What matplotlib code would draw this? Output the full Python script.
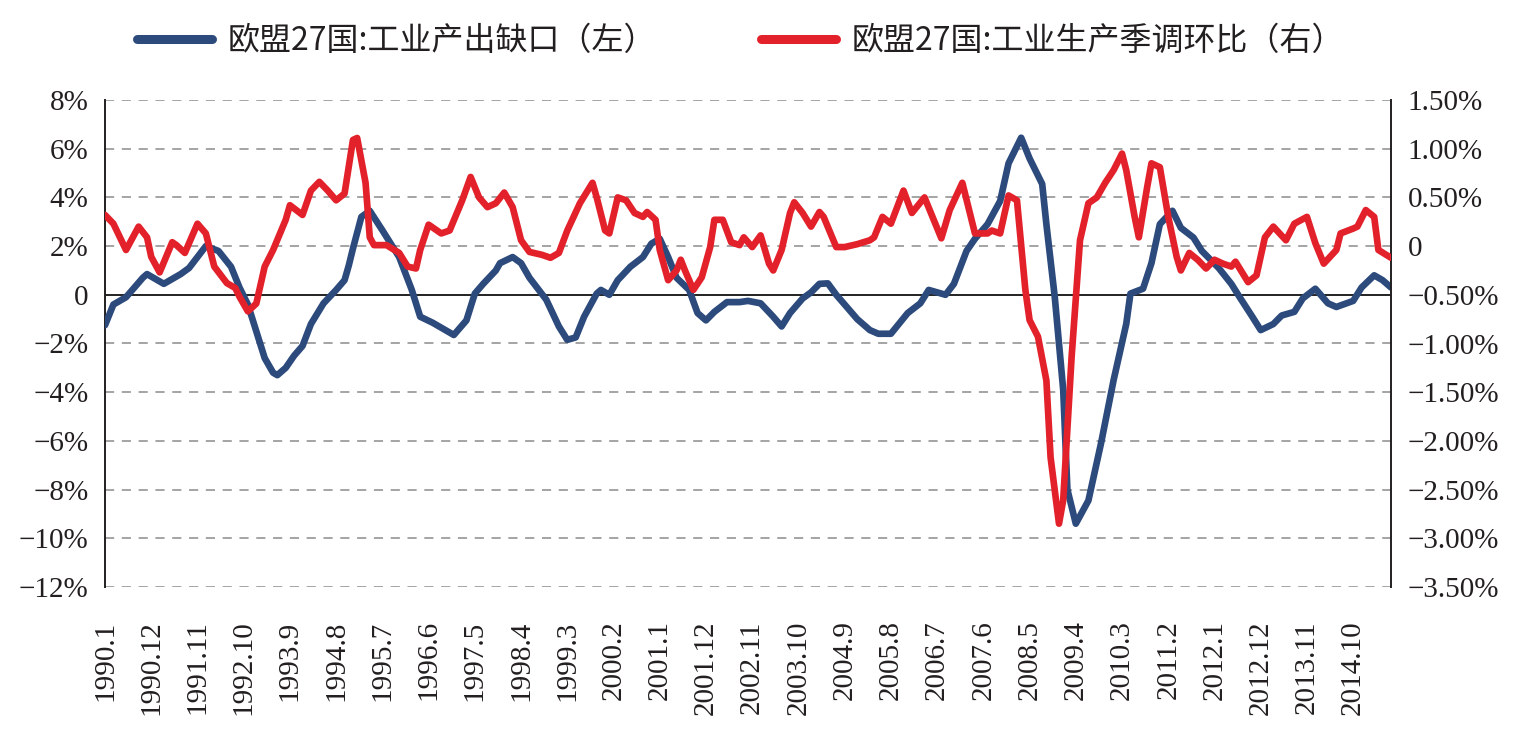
import matplotlib
matplotlib.use('Agg')
import matplotlib.pyplot as plt
import numpy as np

# months counted from 1990.1 (index 0) to 2015.7 (index 306)
n_months = 307
tick_labels = ['1990.1', '1990.12', '1991.11', '1992.10', '1993.9', '1994.8', '1995.7',
               '1996.6', '1997.5', '1998.4', '1999.3', '2000.2', '2001.1', '2001.12',
               '2002.11', '2003.10', '2004.9', '2005.8', '2006.7', '2007.6', '2008.5',
               '2009.4', '2010.3', '2011.2', '2012.1', '2012.12', '2013.11', '2014.10']

# 欧盟27国:工业产出缺口 (%), left axis
gap_month = [0, 2, 5, 9, 10, 14, 18, 20, 24, 27, 30, 32, 34, 36, 38, 40, 41, 43, 45, 47,
             49, 52, 55, 57, 58, 59, 61, 63, 66, 70, 73, 75, 78, 81, 83, 86, 88, 90, 93, 94,
             97, 99, 101, 105, 108, 110, 112, 114, 117, 118, 120, 122, 125, 128, 130, 132,
             134, 136, 139, 141, 143, 145, 148, 151, 153, 156, 159, 161, 163, 166, 168, 170,
             172, 174, 177, 179, 182, 184, 187, 191, 194, 196, 200, 202, 205, 207, 210, 213,
             215, 218, 220, 223, 224, 226, 228, 229, 231, 234, 237, 240, 243, 244, 247, 249,
             251, 254, 256, 259, 261, 265, 268, 270, 273, 275, 278, 280, 283, 285, 288, 291,
             293, 297, 299, 302, 304, 306]
gap_value = [-1.25, -0.4, -0.1, 0.7, 0.85, 0.45, 0.85, 1.1, 2.0, 1.8, 1.15, 0.3, -0.4, -1.5,
             -2.6, -3.2, -3.3, -3.0, -2.5, -2.1, -1.2, -0.35, 0.2, 0.6, 1.2, 1.9, 3.2, 3.45,
             2.65, 1.55, 0.2, -0.9, -1.15, -1.45, -1.65, -1.05, 0.05, 0.45, 1.0, 1.3, 1.55,
             1.3, 0.7, -0.2, -1.3, -1.85, -1.75, -0.9, 0.05, 0.2, 0.0, 0.6, 1.15, 1.55, 2.1,
             2.3, 1.55, 0.7, 0.2, -0.75, -1.05, -0.7, -0.3, -0.3, -0.25, -0.35, -0.9, -1.3,
             -0.75, -0.15, 0.1, 0.45, 0.47, 0.0, -0.6, -1.0, -1.45, -1.6, -1.6, -0.75, -0.35,
             0.2, 0.0, 0.45, 1.8, 2.3, 2.9, 3.85, 5.4, 6.45, 5.6, 4.55, 2.9, -0.1, -3.9, -8.0,
             -9.4, -8.45, -6.1, -3.5, -1.2, 0.05, 0.25, 1.3, 2.9, 3.45, 2.75, 2.35, 1.8, 1.1,
             0.45, -0.1, -0.9, -1.45, -1.2, -0.85, -0.7, -0.15, 0.25, -0.35, -0.5, -0.25, 0.3,
             0.8, 0.6, 0.3]

# 欧盟27国:工业生产季调环比 (%), right axis
ip_month = [0, 2, 5, 8, 10, 11, 13, 16, 17, 19, 22, 24, 26, 29, 31, 32, 34, 36, 38, 40, 43,
            44, 47, 49, 51, 53, 55, 57, 59, 60, 62, 63, 64, 67, 70, 72, 74, 75, 77, 80, 82,
            85, 87, 89, 91, 93, 95, 97, 99, 101, 104, 106, 108, 110, 113, 116, 117, 119, 120,
            122, 124, 126, 128, 129, 131, 132, 134, 136, 137, 138, 140, 142, 144, 145, 147,
            149, 151, 152, 154, 156, 158, 159, 161, 163, 164, 166, 168, 170, 171, 174, 176,
            179, 182, 183, 185, 187, 190, 192, 195, 199, 201, 204, 207, 210, 211, 213, 215,
            217, 219, 220, 222, 224, 225, 227, 228, 230, 232, 234, 236, 238, 240, 242, 243,
            245, 246, 248, 249, 251, 253, 255, 256, 258, 260, 262, 264, 266, 268, 269, 272,
            274, 276, 278, 281, 283, 286, 288, 290, 293, 294, 297, 298, 300, 302, 303, 306]
ip_value = [0.32, 0.23, -0.04, 0.20, 0.09, -0.11, -0.27, 0.04, 0.01, -0.07, 0.23, 0.13,
            -0.21, -0.38, -0.43, -0.52, -0.67, -0.59, -0.21, -0.04, 0.27, 0.42, 0.32, 0.57,
            0.66, 0.57, 0.47, 0.54, 1.09, 1.11, 0.65, 0.09, 0.01, 0.01, -0.07, -0.21, -0.23,
            -0.04, 0.22, 0.13, 0.16, 0.47, 0.71, 0.50, 0.40, 0.44, 0.55, 0.40, 0.06, -0.06,
            -0.09, -0.12, -0.07, 0.16, 0.44, 0.65, 0.50, 0.16, 0.13, 0.50, 0.47, 0.34, 0.30,
            0.35, 0.27, -0.04, -0.35, -0.25, -0.14, -0.25, -0.45, -0.32, -0.01, 0.27, 0.27,
            0.04, 0.01, 0.09, -0.01, 0.11, -0.18, -0.25, -0.04, 0.34, 0.45, 0.34, 0.20, 0.35,
            0.30, -0.01, -0.01, 0.02, 0.06, 0.09, 0.30, 0.23, 0.57, 0.34, 0.50, 0.08, 0.37,
            0.65, 0.13, 0.13, 0.16, 0.13, 0.52, 0.47, -0.45, -0.76, -0.93, -1.38, -2.17,
            -2.85, -2.61, -1.14, 0.06, 0.44, 0.50, 0.65, 0.78, 0.95, 0.78, 0.30, 0.09, 0.61,
            0.85, 0.81, 0.30, -0.11, -0.25, -0.07, -0.14, -0.23, -0.14, -0.18, -0.21, -0.16,
            -0.37, -0.30, 0.09, 0.20, 0.06, 0.23, 0.30, 0.03, -0.18, -0.04, 0.13, 0.18, 0.20,
            0.37, 0.30, -0.04, -0.12]

left_ticks = [8, 6, 4, 2, 0, -2, -4, -6, -8, -10, -12]
right_ticks = [1.5, 1.0, 0.5, 0, -0.5, -1.0, -1.5, -2.0, -2.5, -3.0, -3.5]

BLUE = '#2C4A7C'
RED = '#E3212B'
serif = 'Liberation Serif'


def pct(v, dec):
    if v == 0:
        return '0'
    s = f'{abs(v):.{dec}f}%'
    return ('\u2212' + s) if v < 0 else s


fig = plt.figure(figsize=(15.3, 7.41), dpi=100)
ax = fig.add_axes([105 / 1530, 1 - 587 / 741, (1391 - 105) / 1530, 487 / 741])
ax2 = ax.twinx()

l1, = ax.plot(gap_month, gap_value, color=BLUE, lw=4.8, solid_joinstyle='round',
              solid_capstyle='round', zorder=3)
l2, = ax2.plot(ip_month, ip_value, color=RED, lw=4.8, solid_joinstyle='round',
               solid_capstyle='round', zorder=4)

ax.set_xlim(0, n_months - 1)
ax.set_ylim(-12, 8)
ax2.set_ylim(-3.5, 1.5)

for t in left_ticks:
    if t == 0:
        ax.axhline(0, color='#222222', lw=1.4, zorder=2)
    else:
        ax.axhline(t, color='#8c8c8c', lw=1.1, ls=(0, (6, 5)), zorder=1)

ax.set_yticks(left_ticks)
ax.set_yticklabels([pct(t, 0) for t in left_ticks], fontfamily=serif, fontsize=21)
ax2.set_yticks(right_ticks)
ax2.set_yticklabels([pct(t, 2) for t in right_ticks], fontfamily=serif, fontsize=21)
ax.tick_params(axis='y', length=0, pad=12, colors='#231f20')
ax2.tick_params(axis='y', length=0, pad=12, colors='#231f20')

ax.set_xticks(np.arange(0, n_months, 11))
ax.set_xticklabels(tick_labels, rotation=90, fontfamily=serif, fontsize=21, va='top')
ax.tick_params(axis='x', length=0, pad=24, colors='#231f20')

for a in (ax, ax2):
    a.spines['top'].set_visible(False)
    a.spines['bottom'].set_visible(False)
    a.spines['left'].set_color('#231f20')
    a.spines['right'].set_color('#231f20')
    a.spines['left'].set_linewidth(1.4)
    a.spines['right'].set_linewidth(1.4)
ax2.spines['left'].set_visible(False)
ax.spines['right'].set_visible(False)

leg = fig.legend([l1, l2], ['欧盟27国:工业产出缺口（左）', '欧盟27国:工业生产季调环比（右）'],
                 loc='upper center', bbox_to_anchor=(0.484, 1.005), ncol=2, frameon=False,
                 prop={'family': ['Noto Sans CJK SC', 'DejaVu Sans'], 'size': 23},
                 handlelength=2.35, handletextpad=0.47, columnspacing=3.3)
for h in leg.get_lines():
    h.set_linewidth(6.5)
for t in leg.get_texts():
    t.set_color('#231f20')

fig.savefig('out.png', dpi=100)
